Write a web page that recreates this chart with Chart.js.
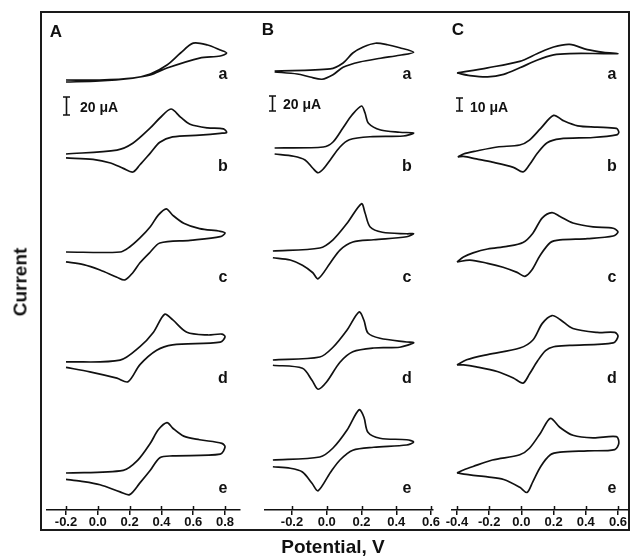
<!DOCTYPE html>
<html><head><meta charset="utf-8">
<script src="https://cdn.jsdelivr.net/npm/chart.js@4/dist/chart.umd.min.js"></script>
<style>
html,body{margin:0;padding:0;background:#fff;}
#wrap{position:relative;width:630px;height:560px;overflow:hidden;font-family:"Liberation Sans",Arial,sans-serif;color:#111;}
canvas{position:absolute;top:0;}
#frame{position:absolute;left:40px;top:11px;width:590px;height:520px;border:2px solid #1a1a1a;box-sizing:border-box;}
.t{position:absolute;font-weight:bold;white-space:nowrap;line-height:1;transform:translate(-50%,-50%);z-index:5;}
.l{position:absolute;font-weight:bold;white-space:nowrap;line-height:1;transform:translate(0,-50%);z-index:5;}
</style></head>
<body><div id="wrap">
<div id="frame"></div>
<canvas id="cA" width="243" height="560" style="left:22px"></canvas>
<canvas id="cB" width="218" height="560" style="left:240px"></canvas>
<canvas id="cC" width="226" height="560" style="left:427px"></canvas>
<div class="t" style="left:20px;top:282px;font-size:19px;transform:translate(-50%,-50%) rotate(-90deg);">Current</div>
<div class="t" style="left:333px;top:546px;font-size:19px;">Potential, V</div>
<div class="t" style="left:56px;top:31px;font-size:17px;">A</div>
<div class="t" style="left:268px;top:29px;font-size:17px;">B</div>
<div class="t" style="left:458px;top:29px;font-size:17px;">C</div>
<div class="l" style="left:80px;top:107px;font-size:14px;">20 μA</div>
<div class="l" style="left:283px;top:104px;font-size:14px;">20 μA</div>
<div class="l" style="left:470px;top:107px;font-size:14px;">10 μA</div>
<div id="rowlabels"></div>
</div>
<script>
// ---- tick labels (V) ----
const ticksA = [-0.2, 0.0, 0.2, 0.4, 0.6, 0.8];
const ticksB = [-0.2, 0.0, 0.2, 0.4, 0.6];
const ticksC = [-0.4, -0.2, 0.0, 0.2, 0.4, 0.6];
const rowNames = ['a', 'b', 'c', 'd', 'e'];

// ---- Panel A curves: potential (V) and current (uA) ----
const E_Aa = [-0.2, 0.01, 0.22, 0.33, 0.435, 0.52, 0.6, 0.69, 0.77, 0.81, 0.77, 0.64, 0.435, 0.33, 0.22, 0.01, -0.2];
const I_Aa = [0, 0, 2.2, 6.7, 16.7, 30, 41, 38.9, 33.3, 30, 26.7, 24.4, 13.3, 5.6, 2.2, -1.1, -2.2];
const E_Ab = [-0.2, 0.12, 0.22, 0.33, 0.39, 0.46, 0.52, 0.58, 0.69, 0.79, 0.81, 0.77, 0.64, 0.47, 0.39, 0.33, 0.265, 0.22, 0.16, 0.08, -0.03, -0.2];
const I_Ab = [0, 4.4, 12, 29, 40, 50, 41, 33, 29, 28, 24, 23, 21, 19, 13, 1, -12, -20, -16, -10, -6, -4.4];
const E_Ac = [-0.2, 0.14, 0.2, 0.265, 0.33, 0.38, 0.43, 0.47, 0.54, 0.64, 0.77, 0.8, 0.77, 0.58, 0.39, 0.33, 0.265, 0.22, 0.17, 0.12, 0.014, -0.09, -0.2];
const I_Ac = [0, 0, 5.6, 15.6, 28, 41, 48, 41, 32, 26, 23, 21, 17, 13, 10, 0, -12, -23, -31, -28, -20, -14, -11];
const E_Ad = [-0.2, 0.14, 0.265, 0.35, 0.42, 0.47, 0.56, 0.69, 0.78, 0.8, 0.77, 0.47, 0.37, 0.265, 0.19, 0.12, -0.05, -0.2];
const I_Ad = [0, 2, 17, 33, 53, 47, 33, 30, 31, 28, 22, 19, 13, -3, -22, -18, -11, -6];
const E_Ae = [-0.2, 0.16, 0.25, 0.33, 0.38, 0.435, 0.47, 0.54, 0.64, 0.78, 0.8, 0.77, 0.47, 0.39, 0.33, 0.265, 0.2, 0.14, 0.014, -0.11, -0.2];
const I_Ae = [0, 3, 14, 33, 48, 56, 50, 41, 37, 33, 29, 21, 19, 17, 3, -11, -24, -21, -13, -9, -7];

// ---- Panel B curves ----
const E_Ba = [-0.3, 0.02, 0.094, 0.15, 0.21, 0.28, 0.35, 0.42, 0.5, 0.42, 0.31, 0.19, 0.094, 0.036, -0.027, -0.096, -0.17, -0.3];
const I_Ba = [0, 2.7, 10.7, 24, 32, 37, 35, 31, 25, 21, 17, 12, 5, -5, -11, -8, -4, -1.3];
const E_Bb = [-0.3, -0.02, 0.036, 0.094, 0.145, 0.2, 0.22, 0.24, 0.31, 0.42, 0.5, 0.44, 0.25, 0.13, 0.076, 0.02, -0.02, -0.05, -0.08, -0.125, -0.19, -0.3];
const I_Bb = [0, 1.3, 8, 27, 44, 56, 47, 33, 24, 21, 20, 16, 15, 11, 1.3, -16, -28, -33, -27, -16, -11, -8];
const E_Bc = [-0.31, -0.04, 0.036, 0.117, 0.2, 0.22, 0.25, 0.32, 0.46, 0.5, 0.46, 0.27, 0.15, 0.076, 0.02, -0.05, -0.08, -0.14, -0.21, -0.31];
const I_Bc = [0, 4, 15, 37, 63, 51, 32, 25, 23, 23, 19, 15, 12, 1.3, -16, -37, -29, -19, -12, -9];
const E_Bd = [-0.31, -0.04, 0.036, 0.117, 0.186, 0.214, 0.237, 0.306, 0.46, 0.5, 0.42, 0.27, 0.15, 0.076, 0.0, -0.05, -0.085, -0.14, -0.31];
const I_Bd = [0, 4, 17, 40, 64, 53, 36, 29, 24, 23, 17, 16, 11, -3, -29, -39, -27, -11, -7];
const E_Be = [-0.31, -0.04, 0.036, 0.117, 0.186, 0.214, 0.237, 0.306, 0.46, 0.5, 0.46, 0.27, 0.15, 0.076, 0.02, -0.05, -0.085, -0.14, -0.21, -0.31];
const I_Be = [0, 4, 16, 40, 67, 57, 37, 29, 27, 24, 20, 17, 13, 0, -17, -41, -31, -16, -11, -9];

// ---- Panel C curves ----
const E_Ca = [-0.4, -0.21, -0.01, 0.1, 0.2, 0.3, 0.41, 0.51, 0.6, 0.51, 0.3, 0.2, 0.1, -0.01, -0.11, -0.21, -0.32, -0.4];
const I_Ca = [0, 4, 9, 15, 20, 22, 18, 16, 15, 15, 15, 14, 10, 4, -1, -3, -2, 0];
const E_Cb = [-0.395, -0.36, -0.28, -0.15, -0.01, 0.05, 0.12, 0.2, 0.26, 0.35, 0.47, 0.59, 0.605, 0.59, 0.445, 0.24, 0.16, 0.1, 0.05, 0.01, -0.05, -0.18, -0.28, -0.36, -0.395];
const I_Cb = [0, 2.3, 4.6, 7.7, 9.2, 13, 22, 32, 28, 24, 23, 22, 19, 17, 15, 14, 11, 3, -6, -11.5, -8, -4, -1.5, 0.5, 0];
const E_Cc = [-0.4, -0.36, -0.3, -0.21, -0.09, 0.01, 0.07, 0.13, 0.19, 0.24, 0.32, 0.445, 0.57, 0.6, 0.57, 0.41, 0.24, 0.18, 0.116, 0.066, 0.022, -0.027, -0.114, -0.21, -0.32, -0.4];
const I_Cc = [0, 3.8, 7, 10, 12, 15, 22, 34, 38, 35, 30, 27, 26, 23, 20, 18, 17, 15, 5, -6, -11, -8, -4, -1, 1.5, 0];
const E_Cd = [-0.4, -0.34, -0.21, -0.01, 0.07, 0.13, 0.19, 0.24, 0.32, 0.47, 0.58, 0.6, 0.57, 0.3, 0.2, 0.15, 0.1, 0.05, 0.01, -0.05, -0.15, -0.28, -0.36, -0.4];
const I_Cd = [0, 4, 8, 13, 19, 32, 38, 35, 28, 25, 25, 22, 17, 15, 14, 11, 3, -7, -14, -10, -5, -1.5, 0, 0];
const E_Ce = [-0.4, -0.36, -0.3, -0.18, -0.01, 0.05, 0.12, 0.18, 0.24, 0.32, 0.445, 0.59, 0.605, 0.58, 0.41, 0.24, 0.18, 0.12, 0.07, 0.035, -0.01, -0.11, -0.21, -0.32, -0.4];
const I_Ce = [0, 2.3, 5, 10, 14, 19, 31, 42, 35, 29, 27, 28, 23, 18, 17, 16, 14, 5, -7, -15, -11, -5, -3, -1.5, 0];

// ---- per-row current ranges (uA) for the stacked row axes ----
const yMinA = [-42.2, -68.9, -68.9, -55.6, -41.1];
const yMaxA = [66.7, 40, 40, 53.3, 67.8];
const yMinB = [-62.7, -90.7, -84, -69.3, -66.7];
const yMaxB = [68, 40, 46.7, 61.3, 64];
const yMinC = [-34.6, -45.4, -40, -36.2, -28.5];
const yMaxC = [40.8, 30, 35.4, 39.2, 46.9];

const INK = '#111';

const tickCross = {
  id: 'tickCross',
  afterDraw(chart) {
    const xs = chart.scales.x, ctx = chart.ctx;
    ctx.save(); ctx.strokeStyle = INK; ctx.lineWidth = 1.5;
    xs.ticks.forEach((t, i) => {
      const px = Math.round(xs.getPixelForTick(i)) + 0.5;
      ctx.beginPath(); ctx.moveTo(px, xs.top - 4); ctx.lineTo(px, xs.top); ctx.stroke();
    });
    ctx.restore();
  }
};
const scaleBar = {
  id: 'scaleBar',
  afterDraw(chart, args, o) {
    const ys = chart.scales[o.axis], xs = chart.scales.x, ctx = chart.ctx;
    const len = Math.abs(ys.getPixelForValue(0) - ys.getPixelForValue(o.value));
    const x = Math.round(xs.getPixelForValue(o.atE)) + 0.5;
    const yb = o.bottom, yt = o.bottom - len;
    ctx.save(); ctx.strokeStyle = INK; ctx.lineWidth = 1.6;
    ctx.beginPath();
    ctx.moveTo(x, yt); ctx.lineTo(x, yb);
    ctx.moveTo(x - 3.5, yt); ctx.lineTo(x + 3.5, yt);
    ctx.moveTo(x - 3.5, yb); ctx.lineTo(x + 3.5, yb);
    ctx.stroke(); ctx.restore();
  }
};

function build(id, xMin, xMax, ticks, curves, yMin, yMax, bar) {
  const datasets = curves.map((c, r) => ({
    data: c[0].map((e, i) => ({x: e, y: c[1][i]})),
    yAxisID: 'y' + r, showLine: true, borderColor: INK, borderWidth: 1.7,
    pointRadius: 0, tension: 0.3, clip: false, fill: false
  }));
  const scales = {
    x: {
      type: 'linear', position: 'bottom', min: xMin, max: xMax,
      afterBuildTicks: s => { s.ticks = ticks.map(v => ({value: v})); },
      afterFit: s => { s.height = 30; s.paddingLeft = 0; s.paddingRight = 0; },
      ticks: {callback: v => Number(v).toFixed(1), color: INK, padding: 0, maxRotation: 0, autoSkip: false,
              font: {family: '"Liberation Sans", Arial, sans-serif', size: 13, weight: 'bold'}},
      grid: {drawOnChartArea: false, tickLength: 5, color: INK, lineWidth: 1.5},
      border: {color: INK, width: 1.5}
    }
  };
  for (let r = 0; r < 5; r++) {
    scales['y' + r] = {type: 'linear', display: false, position: 'left', stack: 'rows', stackWeight: 1,
                       weight: 5 - r, min: yMin[r], max: yMax[r]};
  }
  new Chart(document.getElementById(id), {
    type: 'scatter',
    data: {datasets},
    options: {
      responsive: false, animation: false, events: [],
      layout: {padding: {left: 25, right: 25, top: 20, bottom: 20}},
      plugins: {legend: {display: false}, tooltip: {enabled: false}, scaleBar: bar},
      scales
    },
    plugins: [tickCross, scaleBar]
  });
}

build('cA', -0.3195, 0.894, ticksA,
  [[E_Aa, I_Aa], [E_Ab, I_Ab], [E_Ac, I_Ac], [E_Ad, I_Ad], [E_Ae, I_Ae]], yMinA, yMaxA,
  {axis: 'y0', value: 20, atE: -0.2, bottom: 115});
build('cB', -0.3554, 0.6115, ticksB,
  [[E_Ba, I_Ba], [E_Bb, I_Bb], [E_Bc, I_Bc], [E_Bd, I_Bd], [E_Be, I_Be]], yMinB, yMaxB,
  {axis: 'y0', value: 20, atE: -0.315, bottom: 111});
build('cC', -0.431, 0.662, ticksC,
  [[E_Ca, I_Ca], [E_Cb, I_Cb], [E_Cc, I_Cc], [E_Cd, I_Cd], [E_Ce, I_Ce]], yMinC, yMaxC,
  {axis: 'y0', value: 10, atE: -0.388, bottom: 111});

// row letters
const colX = [223, 407, 612];
const rowY = [74, 166, 277, 378, 488];
const holder = document.getElementById('rowlabels');
colX.forEach(x => rowNames.forEach((n, r) => {
  const d = document.createElement('div');
  d.className = 't'; d.style.left = x + 'px'; d.style.top = rowY[r] + 'px'; d.style.fontSize = '16px';
  d.textContent = n; holder.appendChild(d);
}));
</script>
</body></html>
